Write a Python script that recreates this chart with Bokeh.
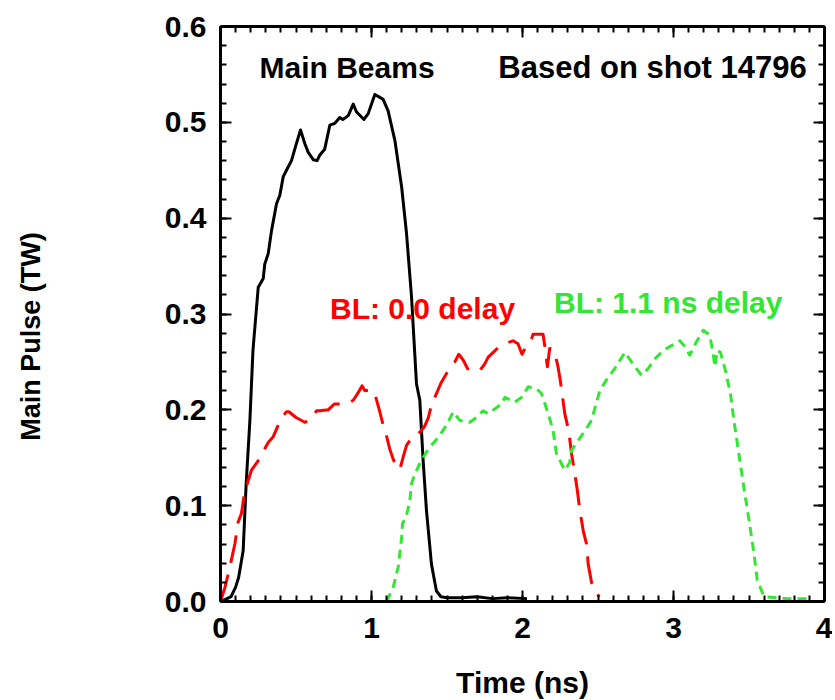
from bokeh.plotting import figure
from bokeh.models import Range1d, LinearAxis, FixedTicker, NumeralTickFormatter, Label
from bokeh.embed import file_html
from bokeh.resources import INLINE

# ---- data ----
x_ticks = [0, 1, 2, 3, 4]
y_ticks = [0.0, 0.1, 0.2, 0.3, 0.4, 0.5, 0.6]
x_minor = [round(i * 0.1, 1) for i in range(41)]
y_minor = [round(i * 0.02, 2) for i in range(31)]

main_t = [0.00, 0.03, 0.07, 0.10, 0.12, 0.15, 0.17, 0.195, 0.215, 0.235, 0.25, 0.283,
          0.293, 0.316, 0.338, 0.371, 0.393, 0.415, 0.437, 0.47, 0.503, 0.53, 0.558,
          0.58, 0.614, 0.64, 0.658, 0.69, 0.724, 0.757, 0.79, 0.81, 0.846, 0.879, 0.90,
          0.95, 0.978, 1.022, 1.055, 1.077, 1.11, 1.155, 1.20, 1.232, 1.265, 1.298, 1.32,
          1.342, 1.364, 1.397, 1.43, 1.46, 1.50, 1.60, 1.70, 1.80, 1.90, 2.03]
main_p = [0.000, 0.002, 0.005, 0.015, 0.025, 0.053, 0.123, 0.190, 0.262, 0.300, 0.328, 0.337,
          0.352, 0.363, 0.387, 0.415, 0.424, 0.443, 0.450, 0.460, 0.478, 0.492, 0.478,
          0.469, 0.461, 0.460, 0.466, 0.472, 0.497, 0.499, 0.505, 0.503, 0.507, 0.519, 0.511,
          0.503, 0.509, 0.529, 0.526, 0.524, 0.512, 0.481, 0.432, 0.384, 0.318, 0.227, 0.210,
          0.147, 0.095, 0.039, 0.011, 0.005, 0.004, 0.004, 0.005, 0.003, 0.004, 0.003]

bl0_t = [0.00, 0.03, 0.062, 0.095, 0.117, 0.139, 0.157, 0.183, 0.205, 0.25,
         0.316, 0.349, 0.404, 0.437, 0.453, 0.50, 0.558, 0.592, 0.636, 0.658,
         0.713, 0.753, 0.80, 0.846, 0.879, 0.912, 0.938, 0.956, 1.00, 1.022,
         1.055, 1.077, 1.099, 1.121, 1.145, 1.166, 1.188, 1.21, 1.232, 1.254,
         1.276, 1.31, 1.349, 1.375, 1.397, 1.43, 1.46, 1.497, 1.53, 1.552,
         1.578, 1.607, 1.636, 1.68, 1.717, 1.75, 1.773, 1.806, 1.839, 1.865,
         1.90, 1.938, 1.97, 1.997, 2.026, 2.06, 2.07, 2.10, 2.136, 2.148,
         2.165, 2.18, 2.21, 2.235, 2.25, 2.28, 2.306, 2.325, 2.347, 2.363,
         2.38, 2.402, 2.424, 2.435, 2.457, 2.49, 2.51]
bl0_p = [0.000, 0.015, 0.036, 0.060, 0.083, 0.092, 0.112, 0.126, 0.137, 0.147,
         0.166, 0.172, 0.192, 0.198, 0.198, 0.192, 0.187, 0.189, 0.199, 0.199,
         0.200, 0.206, 0.206, 0.207, 0.210, 0.218, 0.225, 0.220, 0.221, 0.217,
         0.198, 0.184, 0.173, 0.159, 0.148, 0.140, 0.138, 0.151, 0.163, 0.168,
         0.169, 0.175, 0.182, 0.191, 0.205, 0.217, 0.228, 0.238, 0.246, 0.250,
         0.258, 0.252, 0.243, 0.241, 0.241, 0.248, 0.255, 0.260, 0.265, 0.267,
         0.270, 0.272, 0.269, 0.258, 0.267, 0.274, 0.279, 0.279, 0.279, 0.266,
         0.245, 0.264, 0.262, 0.245, 0.231, 0.196, 0.178, 0.154, 0.133, 0.116,
         0.095, 0.074, 0.060, 0.039, 0.020, 0.008, 0.005]

bl11_t = [1.10, 1.144, 1.177, 1.20, 1.205, 1.232, 1.254, 1.265, 1.287, 1.32,
          1.375, 1.441, 1.497, 1.541, 1.585, 1.651, 1.695, 1.739, 1.772, 1.817,
          1.861, 1.883, 1.949, 1.993, 2.038, 2.093, 2.126, 2.17, 2.203, 2.225,
          2.258, 2.28, 2.313, 2.325, 2.369, 2.413, 2.457, 2.512, 2.567, 2.611,
          2.678, 2.722, 2.788, 2.832, 2.876, 2.932, 2.987, 3.042, 3.075, 3.108,
          3.152, 3.197, 3.24, 3.263, 3.274, 3.29, 3.311, 3.344, 3.377, 3.40,
          3.433, 3.466, 3.50, 3.533, 3.555, 3.60, 3.75, 3.90]
bl11_p = [0.000, 0.015, 0.036, 0.067, 0.081, 0.090, 0.105, 0.123, 0.133, 0.144,
          0.159, 0.171, 0.184, 0.198, 0.189, 0.187, 0.192, 0.199, 0.196, 0.201,
          0.206, 0.213, 0.208, 0.213, 0.224, 0.222, 0.217, 0.196, 0.178, 0.154,
          0.144, 0.137, 0.145, 0.158, 0.168, 0.178, 0.189, 0.220, 0.234, 0.243,
          0.260, 0.250, 0.236, 0.243, 0.253, 0.262, 0.267, 0.272, 0.266, 0.257,
          0.271, 0.283, 0.278, 0.258, 0.245, 0.262, 0.260, 0.241, 0.217, 0.189,
          0.154, 0.119, 0.085, 0.050, 0.022, 0.005, 0.003, 0.003]

FONT = "Liberation Sans"
RED = "#FF0000"
GREEN = "#33E633"

# trailing no-break spaces push the rotated title a little below the frame centre,
# as in the reference
Y_TITLE = "Main Pulse (TW)" + "\u00a0" * 6

p = figure(frame_width=604, frame_height=575,
           min_border_left=220, min_border_top=26, min_border_right=8, min_border_bottom=97,
           x_range=Range1d(x_ticks[0], x_ticks[-1]), y_range=Range1d(y_ticks[0], y_ticks[-1]),
           output_backend="svg", toolbar_location=None,
           x_axis_label="Time (ns)", y_axis_label=Y_TITLE)
p.outline_line_color = None
p.xgrid.visible = False
p.ygrid.visible = False
p.background_fill_color = "white"
p.border_fill_color = "white"


def style_axis(ax, ticks, minors, show_labels):
    ax.ticker = FixedTicker(ticks=ticks, minor_ticks=minors)
    ax.axis_line_width = 3
    ax.axis_line_color = "black"
    ax.major_tick_in = 11
    ax.major_tick_out = 0
    ax.minor_tick_in = 6
    ax.minor_tick_out = 0
    ax.major_tick_line_width = 2
    ax.minor_tick_line_width = 2
    ax.major_tick_line_color = "black"
    ax.minor_tick_line_color = "black"
    if show_labels:
        ax.major_label_text_font = FONT
        ax.major_label_text_font_style = "bold"
        ax.major_label_text_font_size = "30px"
        ax.major_label_text_color = "black"
        ax.axis_label_text_font = FONT
        ax.axis_label_text_font_style = "bold"
        ax.axis_label_text_font_size = "30px"
        ax.axis_label_text_color = "black"
    else:
        ax.major_label_text_font_size = "1px"
        ax.major_label_text_color = None
        ax.major_label_standoff = 0
        ax.axis_label = None


xax = p.xaxis[0]
yax = p.yaxis[0]
style_axis(xax, x_ticks, x_minor, True)
style_axis(yax, y_ticks, y_minor, True)
xax.major_label_standoff = 16
xax.axis_label_standoff = 25
yax.major_label_standoff = 14
yax.axis_label_standoff = 116
yax.axis_label_text_font_size = "27px"
yax.formatter = NumeralTickFormatter(format="0.0")
xax.formatter = NumeralTickFormatter(format="0")

top = LinearAxis()
style_axis(top, x_ticks, x_minor, False)
p.add_layout(top, "above")
right = LinearAxis()
style_axis(right, y_ticks, y_minor, False)
p.add_layout(right, "right")

p.line(main_t, main_p, line_color="black", line_width=3, line_join="round")
p.line(bl0_t, bl0_p, line_color=RED, line_width=3, line_dash="28 12", line_join="round")
p.line(bl11_t, bl11_p, line_color=GREEN, line_width=3, line_dash="9 6", line_join="round")


def add_label(x, y, text, color, size="30px"):
    p.add_layout(Label(x=x, y=y, text=text, text_align="center", text_baseline="alphabetic",
                       text_font=FONT, text_font_style="bold", text_font_size=size,
                       text_color=color))


add_label(0.838, 0.557, "Main Beams", "black")
add_label(2.861, 0.557, "Based on shot 14796", "black", "31px")
add_label(1.338, 0.306, "BL: 0.0 delay", RED)
add_label(2.965, 0.312, "BL: 1.1 ns delay", GREEN)

open("out.html", "w").write(file_html(p, INLINE))
